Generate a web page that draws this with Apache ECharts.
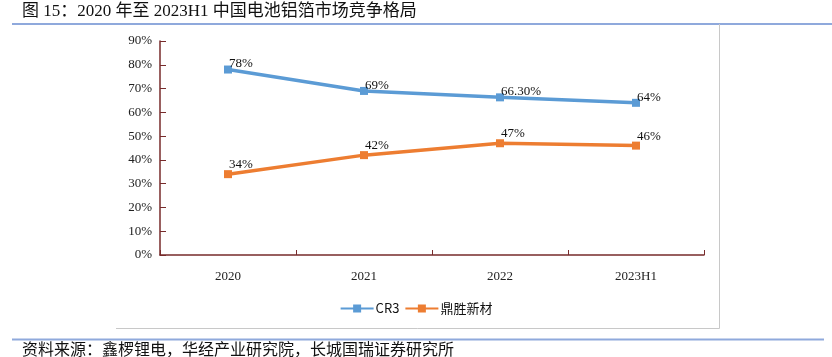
<!DOCTYPE html>
<html>
<head>
<meta charset="utf-8">
<script src="https://cdn.jsdelivr.net/npm/echarts@6/dist/echarts.min.js"></script>
<style>
html,body{margin:0;padding:0;background:#fff;}
#chart{width:832px;height:357px;}
</style>
</head>
<body>
<div id="chart"></div>
<script>
const titleText = '图 15：2020 年至 2023H1 中国电池铝箔市场竞争格局';
const sourceText = '资料来源：鑫椤锂电，华经产业研究院，长城国瑞证券研究所';
const categories = ['2020', '2021', '2022', '2023H1'];
const seriesNames = ['CR3', '鼎胜新材'];
const cr3Values = [78, 69, 66.3, 64];
const dingshengValues = [34, 42, 47, 46];
const cr3Labels = ['78%', '69%', '66.30%', '64%'];
const dingshengLabels = ['34%', '42%', '47%', '46%'];

const axisColor = '#772B2B';
const serif = '"Liberation Serif", "Times New Roman", serif';
const cjk = '"Liberation Serif", "Noto Sans CJK SC", sans-serif';

const chart = echarts.init(document.getElementById('chart'), null, {renderer: 'canvas'});

function labelCfg(texts, dy) {
  return {
    show: true,
    position: 'top',
    distance: 0,
    align: 'left',
    offset: [1, dy],
    fontFamily: serif,
    fontSize: 13,
    color: '#111',
    formatter: p => texts[p.dataIndex]
  };
}

chart.setOption({
  animation: false,
  backgroundColor: '#fff',
  graphic: [
    {type: 'text', left: 22, top: 3, style: {text: titleText, font: '17px ' + cjk, fill: '#111'}},
    {type: 'line', shape: {x1: 12, y1: 24, x2: 832, y2: 24}, style: {stroke: '#8FA9DC', lineWidth: 2}},
    {type: 'line', shape: {x1: 719.5, y1: 24, x2: 719.5, y2: 328.5}, style: {stroke: '#C8C8C8', lineWidth: 1}},
    {type: 'line', shape: {x1: 116, y1: 328.5, x2: 719.5, y2: 328.5}, style: {stroke: '#C8C8C8', lineWidth: 1}},
    {type: 'line', shape: {x1: 12, y1: 339.5, x2: 824, y2: 339.5}, style: {stroke: '#8FA9DC', lineWidth: 2}},
    {type: 'text', left: 22, top: 341, style: {text: sourceText, font: '16px "Noto Sans CJK SC", sans-serif', fill: '#111'}}
  ],
  grid: {left: 160, right: 128, top: 41, bottom: 102, containLabel: false},
  legend: {
    data: seriesNames,
    left: 'center',
    top: 297,
    itemWidth: 33,
    itemHeight: 10,
    itemGap: 5,
    textStyle: {fontFamily: '"Noto Sans CJK SC", sans-serif', fontSize: 13, color: '#111', padding: [0, 0, 0, -3]}
  },
  xAxis: {
    type: 'category',
    data: categories,
    boundaryGap: true,
    axisLine: {lineStyle: {color: axisColor, width: 1.5}},
    axisTick: {show: true, inside: true, length: 5, lineStyle: {color: axisColor, width: 1}},
    axisLabel: {fontFamily: serif, fontSize: 13, color: '#222', margin: 15},
    splitLine: {show: false}
  },
  yAxis: {
    type: 'value',
    min: 0,
    max: 90,
    interval: 10,
    axisLine: {show: true, lineStyle: {color: axisColor, width: 1.5}},
    axisTick: {show: true, inside: true, length: 6, lineStyle: {color: axisColor, width: 1}},
    axisLabel: {fontFamily: serif, fontSize: 13, color: '#222', margin: 8, formatter: '{value}%'},
    splitLine: {show: false}
  },
  series: [
    {
      name: seriesNames[0],
      type: 'line',
      data: cr3Values,
      symbol: 'rect',
      symbolSize: 8,
      lineStyle: {color: '#5B9BD5', width: 3.5},
      itemStyle: {color: '#5B9BD5'},
      label: labelCfg(cr3Labels, 5)
    },
    {
      name: seriesNames[1],
      type: 'line',
      data: dingshengValues,
      symbol: 'rect',
      symbolSize: 8,
      lineStyle: {color: '#ED7D31', width: 3.5},
      itemStyle: {color: '#ED7D31'},
      label: labelCfg(dingshengLabels, 1)
    }
  ]
});
</script>
</body>
</html>
